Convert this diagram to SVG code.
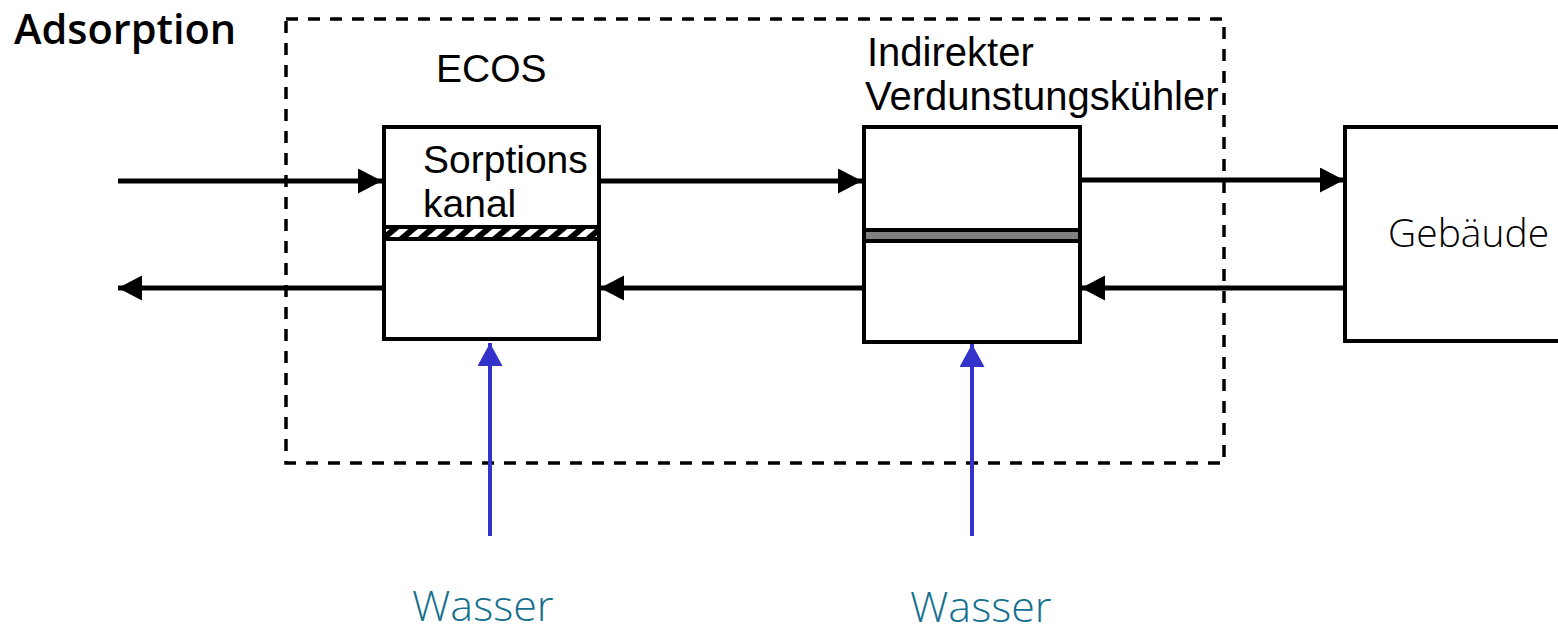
<svg xmlns="http://www.w3.org/2000/svg" width="1558" height="633" viewBox="0 0 1558 633">
<style>
.box{fill:#fff;stroke:#000;stroke-width:4}
.flow{stroke:#000;stroke-width:5;fill:none}
.water{stroke:#3333cc;stroke-width:4;fill:none}
.arial{font-family:"Liberation Sans",Arial,sans-serif;fill:#000}
.light{font-family:"Open Sans","Noto Sans",sans-serif;font-weight:300}
.wasser{font-family:"Open Sans","Noto Sans",sans-serif;font-weight:300;fill:#16718f;font-size:43px}
</style>
<defs>
<marker id="ah" markerUnits="userSpaceOnUse" markerWidth="26" markerHeight="26" refX="24" refY="12.5" orient="auto">
<path d="M0,0 L24,12.5 L0,25 Z" fill="#000"/>
</marker>
<marker id="ahb" markerUnits="userSpaceOnUse" markerWidth="26" markerHeight="26" refX="23" refY="12.5" orient="auto">
<path d="M0,0 L23,12.5 L0,25 Z" fill="#3333cc"/>
</marker>
<pattern id="hatch" patternUnits="userSpaceOnUse" width="12" height="12" patternTransform="rotate(50)">
<rect width="12" height="12" fill="#000"/>
<rect x="0" y="0" width="6" height="12" fill="#fff"/>
</pattern>
</defs>

<g id="title"><text x="14" y="44" style="font-family:'Open Sans','Noto Sans',sans-serif;font-weight:600;font-size:41.5px">Adsorption</text></g>

<g id="system-boundary">
<rect x="286" y="19" width="938" height="444" fill="none" stroke="#000" stroke-width="3.5" stroke-dasharray="12 10"/>
</g>

<g id="ecos">
<text class="arial" x="436" y="82" font-size="39">ECOS</text>
<rect class="box" x="384" y="127" width="215" height="212"/>
<rect x="384" y="227" width="215" height="12" fill="url(#hatch)" stroke="#000" stroke-width="4"/>
<text class="arial" x="423" y="173" font-size="39">Sorptions</text>
<text class="arial" x="423" y="217" font-size="39">kanal</text>
</g>

<g id="ivk">
<text class="arial" x="867" y="66" font-size="40">Indirekter</text>
<text class="arial" x="865" y="110" font-size="40">Verdunstungskühler</text>
<rect class="box" x="864" y="127" width="216" height="215"/>
<rect x="864" y="230" width="216" height="11" fill="#808080" stroke="#000" stroke-width="4"/>
</g>

<g id="gebaeude">
<rect class="box" x="1345" y="127" width="240" height="214"/>
<text class="light" x="1388" y="247" font-size="39" fill="#000">Gebäude</text>
</g>

<g id="wasser1"><text class="wasser" x="412" y="621">Wasser</text></g>
<g id="wasser2"><text class="wasser" x="910" y="622">Wasser</text></g>

<g id="connectors">
<line class="flow" x1="118" y1="181" x2="382" y2="181" marker-end="url(#ah)"/>
<line class="flow" x1="382" y1="288" x2="118" y2="288" marker-end="url(#ah)"/>
<line class="flow" x1="601" y1="181" x2="862" y2="181" marker-end="url(#ah)"/>
<line class="flow" x1="862" y1="288" x2="600" y2="288" marker-end="url(#ah)"/>
<line class="flow" x1="1082" y1="180" x2="1344" y2="180" marker-end="url(#ah)"/>
<line class="flow" x1="1344" y1="288" x2="1081" y2="288" marker-end="url(#ah)"/>
<line class="water" x1="490" y1="536" x2="490" y2="343" marker-end="url(#ahb)"/>
<line class="water" x1="972" y1="536" x2="972" y2="344" marker-end="url(#ahb)"/>
</g>
</svg>
